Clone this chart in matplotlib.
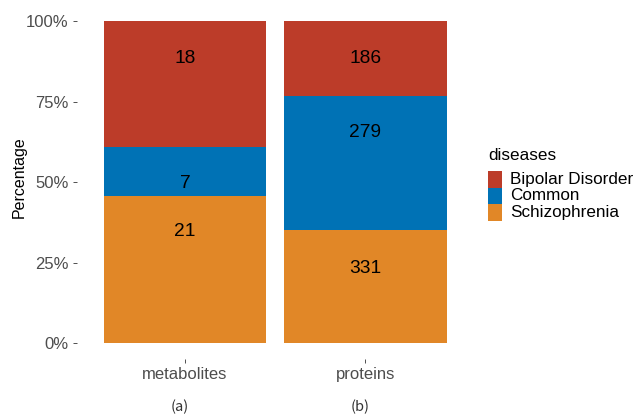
import numpy as np
import matplotlib.pyplot as plt
from matplotlib.patches import Rectangle
from matplotlib.ticker import PercentFormatter

plt.rcParams['font.family'] = ['Liberation Sans', 'DejaVu Sans']

groups = ['metabolites', 'proteins']
captions = ['(a)', '(b)']
diseases = ['Schizophrenia', 'Common', 'Bipolar Disorder']  # bottom to top
colors = ['#E18727', '#0072B5', '#BC3C29']

# counts that set the segment heights (per group, bottom to top)
counts = {
    'metabolites': [21, 7, 18],
    'proteins': [279, 331, 186],
}
# labels as printed in the figure, and their heights (fraction of bar)
label_text = {
    'metabolites': ['21', '7', '18'],
    'proteins': ['331', '279', '186'],
}
label_y = {
    'metabolites': [0.346, 0.496, 0.883],
    'proteins': [0.233, 0.655, 0.883],
}

W, H = 634, 415
fig = plt.figure(figsize=(W / 100, H / 100), dpi=100)
ax = fig.add_axes([0.121, 0.134, 0.626, 0.854])

x = np.arange(1, len(groups) + 1)
for i, g in enumerate(groups):
    c = np.array(counts[g], dtype=float)
    share = c / c.sum()
    bottom = 0.0
    for k in range(len(diseases)):
        ax.bar(x[i], share[k], bottom=bottom, width=0.9, color=colors[k],
               linewidth=0)
        bottom += share[k]
    for t, yy in zip(label_text[g], label_y[g]):
        ax.text(x[i], yy, t, ha='center', va='center', fontsize=13.8,
                color='black')

ax.set_xlim(0.4, 2.6)
ax.set_ylim(-0.05, 1.05)
ax.set_yticks([0, 0.25, 0.5, 0.75, 1.0])
ax.yaxis.set_major_formatter(PercentFormatter(1.0, decimals=0))
ax.set_xticks(x)
ax.set_xticklabels(groups)
ax.tick_params(axis='both', colors='#333333', length=2.75, width=0.6,
               labelsize=12, labelcolor='#4D4D4D', pad=3)
for s in ax.spines.values():
    s.set_visible(False)

fig.text(19 / W, 1 - 177 / H, 'Percentage', rotation=90, ha='center',
         va='center', fontsize=11.5, color='black')

for i, cap in enumerate(captions):
    fig.text((x[i] - 0.4) / 2.2 * 0.626 + 0.121 - 0.008, 1 - 406.5 / H, cap,
             ha='center', va='center', fontsize=10.5, color='#333333',
             family=['Noto Sans CJK SC', 'DejaVu Sans'])

# legend, drawn by hand (top to bottom: Bipolar, Common, Schizophrenia)
fig.text(488 / W, 1 - 155 / H, 'diseases', ha='left', va='center',
         fontsize=12.3, color='black')
key_h = 16.8
for j, k in enumerate((2, 1, 0)):
    top = 170.7 + j * key_h
    fig.add_artist(Rectangle((488 / W, 1 - (top + key_h) / H), 14 / W,
                             key_h / H, transform=fig.transFigure,
                             facecolor=colors[k], edgecolor='none'))
    fig.text(510.5 / W, 1 - (top + key_h / 2) / H, diseases[k], ha='left',
             va='center', fontsize=12.3, color='black')

fig.savefig('out.png', dpi=100)
